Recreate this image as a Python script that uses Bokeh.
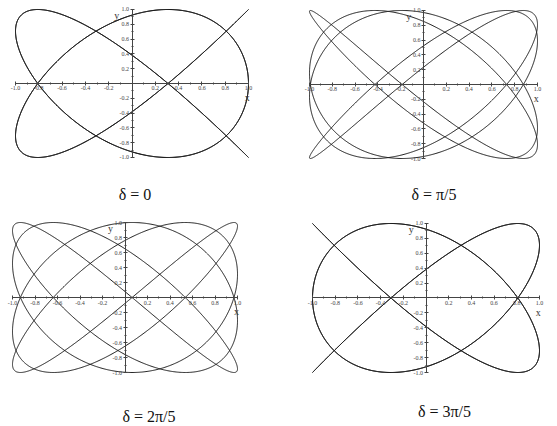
import numpy as np
from bokeh.plotting import figure
from bokeh.models import (LinearAxis, FixedTicker, NumeralTickFormatter, Range1d,
                          ColumnDataSource, Label)
from bokeh.layouts import column, row
from bokeh.embed import file_html
from bokeh.resources import INLINE

# ---- data ----
titles = ["δ = 0", "δ = π/5", "δ = 2π/5", "δ = 3π/5"]
freq_x = 4
freq_y = 5
phase_y = [0.0, np.pi / 5, 2 * np.pi / 5, np.pi / 4]   # phase
major_ticks = [-1.0, -0.8, -0.6, -0.4, -0.2, 0.2, 0.4, 0.6, 0.8, 1.0]
minor_ticks = [-0.9, -0.7, -0.5, -0.3, -0.1, 0.1, 0.3, 0.5, 0.7, 0.9]

# ---- layout (positions only) ----
widths = [278, 279, 278, 279]
H = 213
xr = [(-1.1288, 1.2575), (-1.2719, 1.1754), (-1.1067, 1.3644), (-1.2996, 1.1586)]
yr = [(-1.7568, 1.1216), (-1.7432, 1.1351), (-1.72, 1.12), (-1.7248, 1.1342)]
title_pos = [(0.026, -1.50), (0.092, -1.49), (0.213, -1.585), (0.163, -1.52)]

t = np.linspace(0, 2 * np.pi, 3000)

def panel(i):
    p = figure(width=widths[i], height=H, output_backend="svg", toolbar_location=None,
               x_range=Range1d(*xr[i]), y_range=Range1d(*yr[i]),
               x_axis_location=None, y_axis_location=None,
               min_border=0, min_border_left=0, min_border_right=0,
               min_border_top=0, min_border_bottom=0)
    p.outline_line_color = None
    p.xgrid.visible = False
    p.ygrid.visible = False
    p.background_fill_color = "white"
    p.border_fill_color = "white"

    src = ColumnDataSource(dict(x=np.cos(freq_x * t), y=np.cos(freq_y * t + phase_y[i])))
    p.line("x", "y", source=src, line_color="#1a1a1a", line_width=1.0)

    for side in ("below", "left"):
        ax = LinearAxis(fixed_location=0, bounds=(-1, 1),
                        ticker=FixedTicker(ticks=major_ticks, minor_ticks=minor_ticks),
                        formatter=NumeralTickFormatter(format="0.0"))
        ax.axis_line_color = "#444444"
        ax.axis_line_width = 1
        ax.major_tick_in = 2
        ax.major_tick_out = 2
        ax.minor_tick_in = 1
        ax.minor_tick_out = 1
        ax.major_tick_line_color = "#444444"
        ax.minor_tick_line_color = "#444444"
        ax.major_label_text_font = "Liberation Serif"
        ax.major_label_text_font_size = "6px"
        ax.major_label_text_color = "#444444"
        ax.major_label_standoff = 1
        p.add_layout(ax, side)

    p.add_layout(Label(x=-0.13, y=0.92, text="y", text_font="Liberation Serif",
                       text_font_size="10px", text_color="#333333",
                       text_align="center", text_baseline="middle"))
    p.add_layout(Label(x=0.99, y=-0.19, text="x", text_font="Liberation Serif",
                       text_font_size="10px", text_color="#333333",
                       text_align="center", text_baseline="middle"))
    tx, ty = title_pos[i]
    p.add_layout(Label(x=tx, y=ty, text=titles[i], text_font="Liberation Serif",
                       text_font_size="16px", text_color="#111111",
                       text_align="center", text_baseline="middle"))
    return p

ps = [panel(i) for i in range(4)]
layout = column(row(ps[0], ps[1], spacing=0), row(ps[2], ps[3], spacing=0), spacing=0)

open("out.html", "w").write(file_html(layout, INLINE))
